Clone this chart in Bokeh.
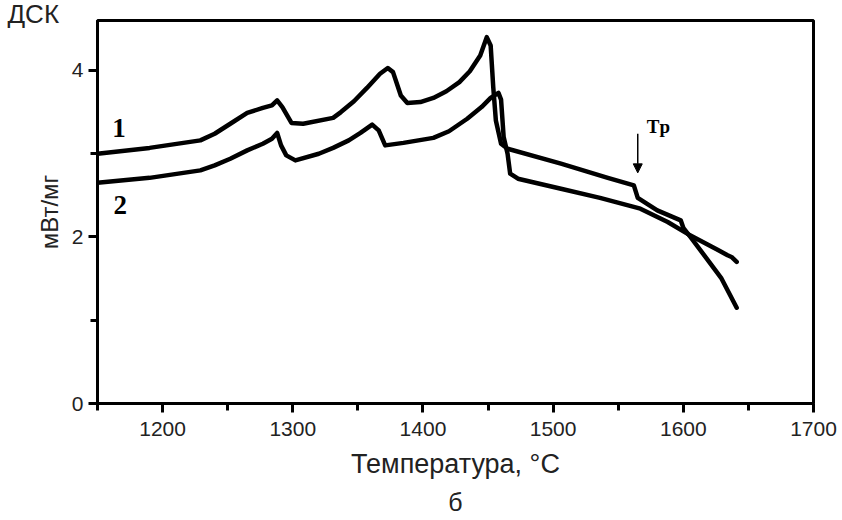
from bokeh.plotting import figure
from bokeh.models import Range1d, FixedTicker, Label, Arrow, NormalHead, Title
from bokeh.embed import file_html
from bokeh.resources import INLINE

# Curve 1 (upper)
temp1 = [1150, 1190, 1229, 1240, 1252, 1265, 1277, 1284, 1288, 1292, 1299, 1308,
         1331, 1337, 1347, 1357, 1367, 1373, 1377, 1383, 1388, 1398, 1408, 1418,
         1428, 1436, 1444, 1449, 1452, 1454, 1456, 1460, 1465, 1506, 1542, 1562,
         1565, 1580, 1598, 1600, 1606, 1629, 1641]
dsc1 = [3.00, 3.07, 3.16, 3.24, 3.36, 3.49, 3.55, 3.58, 3.64, 3.56, 3.37, 3.36,
        3.43, 3.50, 3.63, 3.79, 3.96, 4.03, 3.98, 3.70, 3.61, 3.62, 3.67, 3.75,
        3.86, 3.99, 4.18, 4.40, 4.30, 3.80, 3.40, 3.12, 3.06, 2.88, 2.71, 2.62,
        2.47, 2.32, 2.20, 2.11, 1.99, 1.51, 1.15]

# Curve 2 (lower)
temp2 = [1150, 1190, 1229, 1240, 1252, 1265, 1277, 1284, 1288, 1291, 1295, 1302,
         1320, 1331, 1343, 1352, 1361, 1366, 1371, 1385, 1408, 1420, 1434, 1445,
         1452, 1458, 1460, 1462, 1465, 1467, 1473, 1506, 1536, 1567, 1588, 1603,
         1627, 1634, 1637, 1641]
dsc2 = [2.65, 2.71, 2.80, 2.86, 2.94, 3.04, 3.12, 3.18, 3.25, 3.10, 2.98, 2.92,
        3.00, 3.07, 3.16, 3.25, 3.35, 3.28, 3.10, 3.13, 3.19, 3.27, 3.42, 3.56,
        3.67, 3.73, 3.65, 3.20, 3.00, 2.76, 2.70, 2.58, 2.47, 2.34, 2.18, 2.04,
        1.84, 1.78, 1.76, 1.70]

x_major = [1200, 1300, 1400, 1500, 1600, 1700]
x_minor = [1150, 1250, 1350, 1450, 1550, 1650]
y_major = [0, 2, 4]
y_minor = [1, 3]

x_title = "Температура, °C"
y_title = "мВт/мг"
top_label = "ДСК"
bottom_label = "б"
curve_labels = ["1", "2"]
tp_label = "Tp"
tp_temp = 1565
tp_from, tp_to = 3.24, 2.77

p = figure(width=842, height=520, output_backend="svg", toolbar_location=None,
           x_range=Range1d(1150, 1700), y_range=Range1d(0, 4.6),
           min_border_left=97, min_border_right=29, min_border_top=20,
           min_border_bottom=117)
p.background_fill_color = "white"
p.border_fill_color = "white"
p.grid.visible = False
p.outline_line_color = "black"
p.outline_line_width = 3

for ax in (p.xaxis[0], p.yaxis[0]):
    ax.axis_line_width = 3
    ax.axis_line_color = "black"
    ax.major_tick_line_width = 3
    ax.minor_tick_line_width = 3
    ax.major_tick_in = 0
    ax.major_tick_out = 9
    ax.minor_tick_in = 0
    ax.minor_tick_out = 7
    ax.major_label_text_font = "Liberation Sans"
    ax.major_label_text_font_size = "21px"
    ax.major_label_text_color = "#222222"
    ax.axis_label_text_font = "Liberation Sans"
    ax.axis_label_text_font_style = "normal"
    ax.axis_label_text_color = "#222222"

p.xaxis[0].ticker = FixedTicker(ticks=x_major, minor_ticks=x_minor)
p.yaxis[0].ticker = FixedTicker(ticks=y_major, minor_ticks=y_minor)
p.xaxis[0].axis_label = x_title
p.xaxis[0].axis_label_text_font_size = "27px"
p.xaxis[0].major_label_standoff = 9
p.xaxis[0].axis_label_standoff = 10
p.yaxis[0].axis_label = y_title
p.yaxis[0].axis_label_text_font_size = "24px"
p.yaxis[0].major_label_standoff = 5
p.yaxis[0].axis_label_standoff = 6

p.line(temp1, dsc1, line_color="black", line_width=4.5, line_join="round", line_cap="round")
p.line(temp2, dsc2, line_color="black", line_width=4.5, line_join="round", line_cap="round")

p.add_layout(Label(x=1166.5, y=3.31, text=curve_labels[0], text_font="Liberation Serif",
                   text_font_style="bold", text_font_size="27px", text_align="center",
                   text_baseline="middle", text_color="black"))
p.add_layout(Label(x=1167.5, y=2.39, text=curve_labels[1], text_font="Liberation Serif",
                   text_font_style="bold", text_font_size="27px", text_align="center",
                   text_baseline="middle", text_color="black"))
p.add_layout(Label(x=1572, y=3.33, text=tp_label, text_font="Liberation Serif",
                   text_font_style="bold", text_font_size="19px", text_align="left",
                   text_baseline="middle", text_color="black"))
p.add_layout(Arrow(x_start=tp_temp, y_start=tp_from, x_end=tp_temp, y_end=tp_to,
                   line_width=1.5, line_color="black",
                   end=NormalHead(size=9, fill_color="black", line_color="black")))

p.add_layout(Title(text=top_label, align="left", offset=-90, standoff=-17,
                   text_font="Liberation Sans", text_font_size="26px",
                   text_font_style="normal", text_color="#222222"), "above")
p.add_layout(Title(text=bottom_label, align="center", standoff=9,
                   text_font="Liberation Sans", text_font_size="25px",
                   text_font_style="normal", text_color="#222222"), "below")

open("out.html", "w").write(file_html(p, INLINE))
